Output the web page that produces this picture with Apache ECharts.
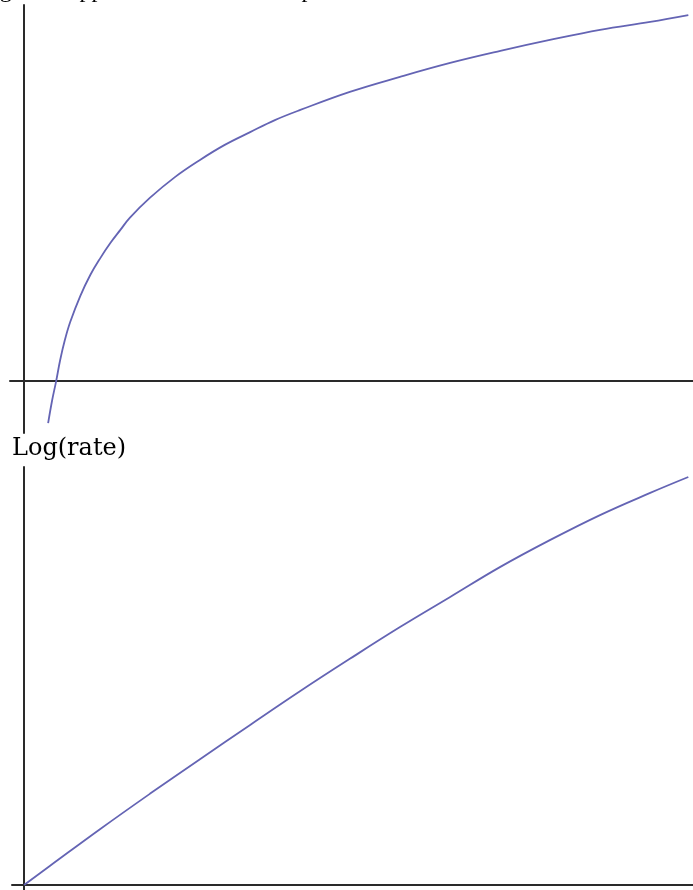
<!DOCTYPE html>
<html>
<head>
<meta charset="utf-8">
<script src="https://cdn.jsdelivr.net/npm/echarts@6/dist/echarts.min.js"></script>
<style>
  html, body { margin: 0; padding: 0; background: #fff; }
  #chart { width: 693px; height: 890px; }
</style>
</head>
<body>
<div id="chart"></div>
<script>
// Upper panel: saturating (logarithmic-looking) curve
const upperX = [3.6, 4.2, 4.8, 5.4, 6.1, 6.9, 8.4, 9.9, 11.4, 12.9, 14.4, 15.8, 18.8, 22.6,
                26.3, 30.0, 33.8, 37.5, 41.3, 48.7, 56.2, 63.7, 71.2, 78.6, 86.1, 93.6, 99.3];
const upperY = [-11.2, -5.1, 0, 5.6, 10.9, 15.7, 22.6, 28.2, 32.7, 36.7, 40.2, 43.4, 48.7, 54.3,
                58.8, 62.8, 66.2, 69.4, 72.1, 76.9, 80.9, 84.6, 87.8, 90.7, 93.4, 95.5, 97.3];

// Lower panel: Log(rate), nearly linear with a gentle bend
const lowerX = [0, 3.9, 11.4, 18.8, 26.3, 33.8, 41.3, 48.7, 56.2, 63.7, 71.2, 78.6, 86.1, 93.6, 99.3];
const lowerY = [0, 4.6, 13.4, 21.8, 30.1, 38.3, 46.4, 54.1, 61.7, 68.9, 76.1, 82.5, 88.5, 93.8, 97.6];

const headingText = 'Log rates approach the maximum possible value';
const lowerLabel = 'Log(rate)';

const pair = (xs, ys) => xs.map((x, i) => [x, ys[i]]);

const axisLineStyle = { show: true, onZero: true, lineStyle: { color: '#2a2a2a', width: 2 } };
const bareAxis = (extra) => Object.assign({
  type: 'value',
  axisLine: axisLineStyle,
  axisTick: { show: false },
  axisLabel: { show: false },
  splitLine: { show: false }
}, extra);

const curveStyle = { color: '#6464b4', width: 1.8 };

const chart = echarts.init(document.getElementById('chart'), null, { renderer: 'canvas' });
chart.setOption({
  animation: false,
  backgroundColor: '#ffffff',
  grid: [
    { left: 10, right: 0, top: 5, height: 428 },
    { left: 12, right: 0, top: 467, height: 423 }
  ],
  xAxis: [
    bareAxis({ gridIndex: 0, min: -2.1, max: 100 }),
    bareAxis({ gridIndex: 1, min: -1.8, max: 100 })
  ],
  yAxis: [
    bareAxis({ gridIndex: 0, min: -13.8, max: 100 }),
    bareAxis({ gridIndex: 1, min: -1.2, max: 100 })
  ],
  series: [
    {
      type: 'line', xAxisIndex: 0, yAxisIndex: 0,
      data: pair(upperX, upperY), smooth: 0.4, showSymbol: false,
      lineStyle: curveStyle
    },
    {
      type: 'line', xAxisIndex: 1, yAxisIndex: 1,
      data: pair(lowerX, lowerY), smooth: 0.4, showSymbol: false,
      lineStyle: curveStyle
    }
  ],
  graphic: [
    {
      type: 'text', x: -27, y: -9.5, silent: true,
      style: {
        text: headingText, font: '24px "Liberation Serif"', fill: '#000',
        align: 'left', verticalAlign: 'middle'
      }
    },
    {
      type: 'text', left: 12, top: 437, silent: true,
      style: { text: lowerLabel, font: '24px "DejaVu Serif"', fill: '#000' }
    }
  ]
});
</script>
</body>
</html>
